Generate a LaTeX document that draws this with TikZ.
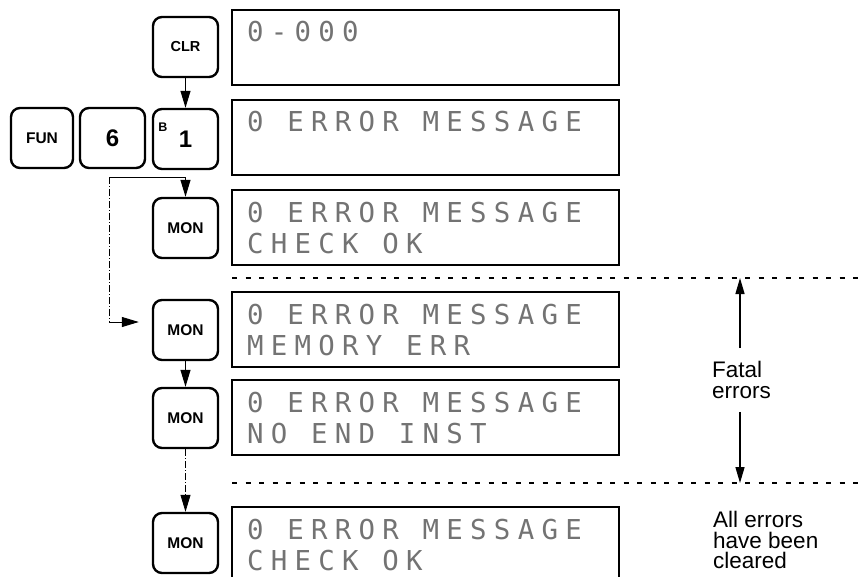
\documentclass[tikz,border=0pt]{standalone}
\usepackage{fontspec}
\setmainfont{Liberation Sans}
\newfontfamily\lcdfont[LetterSpace=26.5]{DejaVu Sans Mono}
\usetikzlibrary{arrows.meta}
\begin{document}
\begin{tikzpicture}[x=1pt,y=-1pt,
  key/.style={draw, line width=2.4pt, rounded corners=9pt, minimum width=65pt, minimum height=60pt, inner sep=0pt, font=\fontsize{15.5}{17}\selectfont\bfseries},
  bigkey/.style={key, font=\fontsize{24}{26}\selectfont\bfseries},
  lcdbox/.style={draw, line width=2.6pt, minimum width=387pt, minimum height=75pt, inner sep=0pt},
  lcd/.style={anchor=base west, inner sep=0pt, text=black!55, font=\fontsize{27.4}{30}\selectfont\lcdfont},
  conn/.style={line width=1pt},
  tri/.style={conn, -{Triangle[length=17pt,width=10pt]}},
  dashdot/.style={line width=0.8pt, dash pattern=on 7pt off 2pt on 1pt off 2pt},
  sep/.style={line width=1.2pt, dash pattern=on 5pt off 8.5pt},
  note/.style={inner sep=0pt, align=left, font=\fontsize{22.5}{21}\selectfont}
]
\useasboundingbox (0,0) rectangle (859,576);
\clip (0,0) rectangle (859,576);

% keys
\node[key, font=\fontsize{14.5}{16}\selectfont\bfseries] (clr) at (185.5,47) {CLR};
\node[key, minimum width=62pt] (fun) at (42,138) {FUN};
\node[bigkey] (six) at (112.5,138) {6};
\node[bigkey] (b1) at (185.5,139) {1};
\node[inner sep=0pt, font=\fontsize{12.5}{13}\selectfont\bfseries] (bl) at (163,127) {B};
\node[key] (mon1) at (185.5,228) {MON};
\node[key] (mon2) at (185.5,330) {MON};
\node[key] (mon3) at (185.5,418) {MON};
\node[key] (mon4) at (185.5,543) {MON};

% displays
\node[lcdbox] (d1) at (425.5,47.5) {};
\node[lcdbox] (d2) at (425.5,137.5) {};
\node[lcdbox] (d3) at (425.5,227.5) {};
\node[lcdbox] (d4) at (425.5,329.5) {};
\node[lcdbox] (d5) at (425.5,417.5) {};
\node[lcdbox] (d6) at (425.5,544.5) {};

\node[lcd] (t1a) at (247,41) {0-000};
\node[lcd] (t2a) at (247,131) {0 ERROR MESSAGE};
\node[lcd] (t3a) at (247,222) {0 ERROR MESSAGE};
\node[lcd] (t3b) at (247,253) {CHECK OK};
\node[lcd] (t4a) at (247,324) {0 ERROR MESSAGE};
\node[lcd] (t4b) at (247,355) {MEMORY ERR};
\node[lcd] (t5a) at (247,412) {0 ERROR MESSAGE};
\node[lcd] (t5b) at (247,443) {NO END INST};
\node[lcd] (t6a) at (247,539) {0 ERROR MESSAGE};
\node[lcd] (t6b) at (247,570) {CHECK OK};

% separators
\coordinate (s1a) at (232,278);
\coordinate (s1b) at (858,278);
\coordinate (s2a) at (232,483);
\coordinate (s2b) at (858,483);
\draw[sep] (s1a) -- (s1b);
\draw[sep] (s2a) -- (s2b);

% connectors
\coordinate (br) at (109,177);
\coordinate (bc) at (109,322);
\draw[tri] (clr) -- (b1);
\draw[tri] (br) -| (mon1.north);
\draw[dashdot] (br) -- (bc);
\draw[tri, shorten >=13pt] (bc) -- (bc -| mon2.west);
\draw[tri] (mon2) -- (mon3);
\draw[dashdot, -{Triangle[length=17pt,width=10pt]}] (mon3) -- (mon4);

% notes
\node[note, anchor=west] (fatal) at (712,380) {Fatal\\errors};
\draw[conn, line width=1.4pt, -{Triangle[length=16pt,width=9pt]}, shorten <=13pt] (fatal.north -| 740,0) -- (740,278);
\draw[conn, line width=1.4pt, -{Triangle[length=16pt,width=9pt]}, shorten <=13pt] (fatal.south -| 740,0) -- (740,483);
\node[note, anchor=north west, font=\fontsize{22.5}{20.5}\selectfont] (clear) at (713,511) {All errors\\have been\\cleared};
\end{tikzpicture}
\end{document}
